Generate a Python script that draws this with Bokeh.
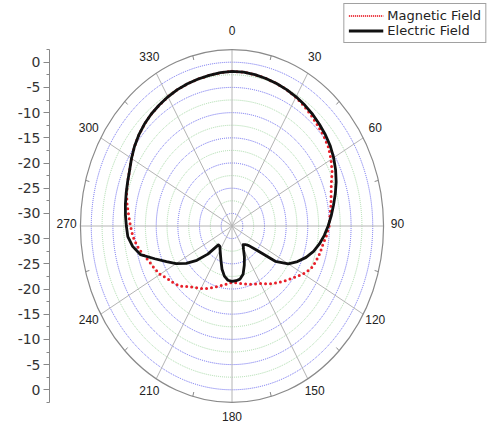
import numpy as np
from bokeh.plotting import figure
from bokeh.models import (Range1d, FixedTicker, ColumnDataSource, LabelSet,
                          Legend, LegendItem)
from bokeh.core.properties import value
from bokeh.embed import file_html
from bokeh.resources import INLINE

# Measured field patterns (dB), sampled every 5 degrees, clockwise from 0
angles_deg = list(range(0, 360, 5))
electric_db = [
    -1.8, -1.85, -2.0, -2.2, -2.4, -2.65, -2.9, -3.2, -3.55, -3.95, -4.35, -4.8,
    -5.4, -6.1, -6.9, -7.8, -8.7, -9.5, -10.3, -11.1, -12.0, -13.0, -14.3, -15.8,
    -17.5, -20.3, -25.0, -27.0, -27.7, -28.0, -27.2, -25.7, -24.2, -22.6, -21.8, -21.6,
    -21.5, -21.7, -22.4, -23.6, -25.1, -26.2, -27.0, -27.6, -27.6, -24.6, -21.9, -19.6,
    -17.6, -15.8, -13.5, -10.6, -9.2, -8.35, -8.1, -7.8, -7.5, -7.2, -6.85, -6.4,
    -5.7, -5.0, -4.4, -3.9, -3.5, -3.2, -2.9, -2.65, -2.45, -2.3, -2.15, -1.95,
]
magnetic_db = [
    -1.8, -1.85, -2.0, -2.2, -2.4, -2.65, -3.0, -3.45, -3.95, -4.4, -4.8, -5.3,
    -6.1, -7.0, -8.1, -8.8, -9.3, -9.8, -10.05, -10.6, -11.2, -11.5, -11.9, -12.4,
    -13.5, -14.8, -15.8, -16.8, -17.6, -18.5, -19.3, -19.8, -20.2, -20.6, -20.9, -21.2,
    -21.35, -21.0, -20.6, -20.1, -19.5, -18.8, -18.2, -17.6, -16.8, -15.6, -14.9, -14.3,
    -13.3, -12.7, -12.1, -11.1, -10.2, -9.5, -9.05, -8.55, -7.9, -7.3, -6.85, -6.4,
    -5.7, -5.0, -4.4, -3.9, -3.5, -3.2, -2.9, -2.65, -2.45, -2.3, -2.15, -1.95,
]

# Radial axis: centre and outer rim in dB
R_MIN = -32.5
R_MAX = 2.5
ring_major_db = [0, -5, -10, -15, -20, -25, -30]
ring_minor_db = [-2.5, -7.5, -12.5, -17.5, -22.5, -27.5]
spoke_deg = list(range(0, 360, 30))
spoke_labels = [str(a) for a in spoke_deg]
series_names = ["Magnetic Field", "Electric Field"]


def to_xy(deg, db):
    th = np.radians(np.asarray(deg, dtype=float))
    r = np.asarray(db, dtype=float) - R_MIN
    return r * np.sin(th), r * np.cos(th)


p = figure(width=489, height=425, output_backend="svg", toolbar_location=None,
           x_range=Range1d(-42.148, 59.469), y_range=Range1d(-39.583, 44.742),
           x_axis_location=None, min_border_left=49, min_border_right=0,
           min_border_top=0, min_border_bottom=0)
p.outline_line_color = None
p.xgrid.visible = False
p.ygrid.visible = False
p.background_fill_color = "white"
p.border_fill_color = "white"

outer = R_MAX - R_MIN

# grid rings
for d in ring_minor_db:
    r = d - R_MIN
    p.ellipse(x=0, y=0, width=2 * r, height=2 * r, fill_color=None,
              line_color="#a9dba9", line_width=1, line_dash="1 1")
for d in ring_major_db:
    r = d - R_MIN
    p.ellipse(x=0, y=0, width=2 * r, height=2 * r, fill_color=None,
              line_color="#6a6af0", line_width=1, line_dash="1 1")

# spokes
sx, sy = to_xy(spoke_deg, [R_MAX] * len(spoke_deg))
p.segment(x0=[0] * len(spoke_deg), y0=[0] * len(spoke_deg), x1=sx, y1=sy,
          line_color="#b4b4b4", line_width=1)

# outer rim and minor angle ticks
p.ellipse(x=0, y=0, width=2 * outer, height=2 * outer, fill_color=None,
          line_color="#8a8a8a", line_width=1.2)
minor_deg = [a + 15 for a in spoke_deg]
tx0, ty0 = to_xy(minor_deg, [R_MAX] * len(minor_deg))
tx1, ty1 = to_xy(minor_deg, [R_MAX - 0.9] * len(minor_deg))
p.segment(x0=tx0, y0=ty0, x1=tx1, y1=ty1, line_color="#8a8a8a", line_width=1)

# angle labels just outside the rim
lx, ly = to_xy(spoke_deg, [R_MAX + 3.2] * len(spoke_deg))
lab_src = ColumnDataSource(dict(x=lx, y=ly + 0.5, t=spoke_labels))
p.add_layout(LabelSet(x="x", y="y", text="t", source=lab_src,
                      text_align="center", text_baseline="middle",
                      text_font=value("Liberation Sans"), text_font_size="12px",
                      text_color="#222222"))

# field patterns (closed loops)
mx, my = to_xy(angles_deg + [angles_deg[0]], magnetic_db + [magnetic_db[0]])
ex, ey = to_xy(angles_deg + [angles_deg[0]], electric_db + [electric_db[0]])
p.line(mx, my, line_color="#e8202a", line_width=3, line_dash="0 5",
       line_cap="round")
p.line(ex, ey, line_color="#111111", line_width=2.8, line_join="round")

# legend swatches
leg_mag = p.line([np.nan], [np.nan], line_color="#e8202a", line_width=2,
                 line_dash="1 1")
leg_ele = p.line([np.nan], [np.nan], line_color="#111111", line_width=3)
legend = Legend(items=[LegendItem(label=series_names[0], renderers=[leg_mag]),
                       LegendItem(label=series_names[1], renderers=[leg_ele])],
                location="top_right", margin=3, padding=4, spacing=0,
                glyph_width=35, glyph_height=15, label_height=15,
                label_standoff=4, label_text_font="DejaVu Sans",
                label_text_font_size="13px", label_text_color="#222222",
                border_line_color="#444444", border_line_width=1,
                background_fill_color="white", background_fill_alpha=1)
p.add_layout(legend)

# left radial scale, mirrored above and below the centre
major_ticks, overrides = [], {}
for d in ring_major_db:
    for s in (1, -1):
        v = s * (d - R_MIN)
        major_ticks.append(v)
        overrides[v] = str(d)
minor_ticks = []
for d in ring_minor_db + [R_MAX]:
    for s in (1, -1):
        minor_ticks.append(s * (d - R_MIN))

ax = p.yaxis[0]
ax.ticker = FixedTicker(ticks=sorted(major_ticks), minor_ticks=sorted(minor_ticks))
ax.major_label_overrides = overrides
ax.bounds = (-outer, outer)
ax.axis_line_color = "#888888"
ax.major_tick_line_color = "#888888"
ax.minor_tick_line_color = "#888888"
ax.major_tick_out = 6
ax.major_tick_in = 0
ax.minor_tick_out = 3
ax.minor_tick_in = 0
ax.major_label_standoff = 3
ax.major_label_text_font = "DejaVu Sans"
ax.major_label_text_font_size = "14px"
ax.major_label_text_color = "#333333"

open("out.html", "w").write(file_html(p, INLINE))
